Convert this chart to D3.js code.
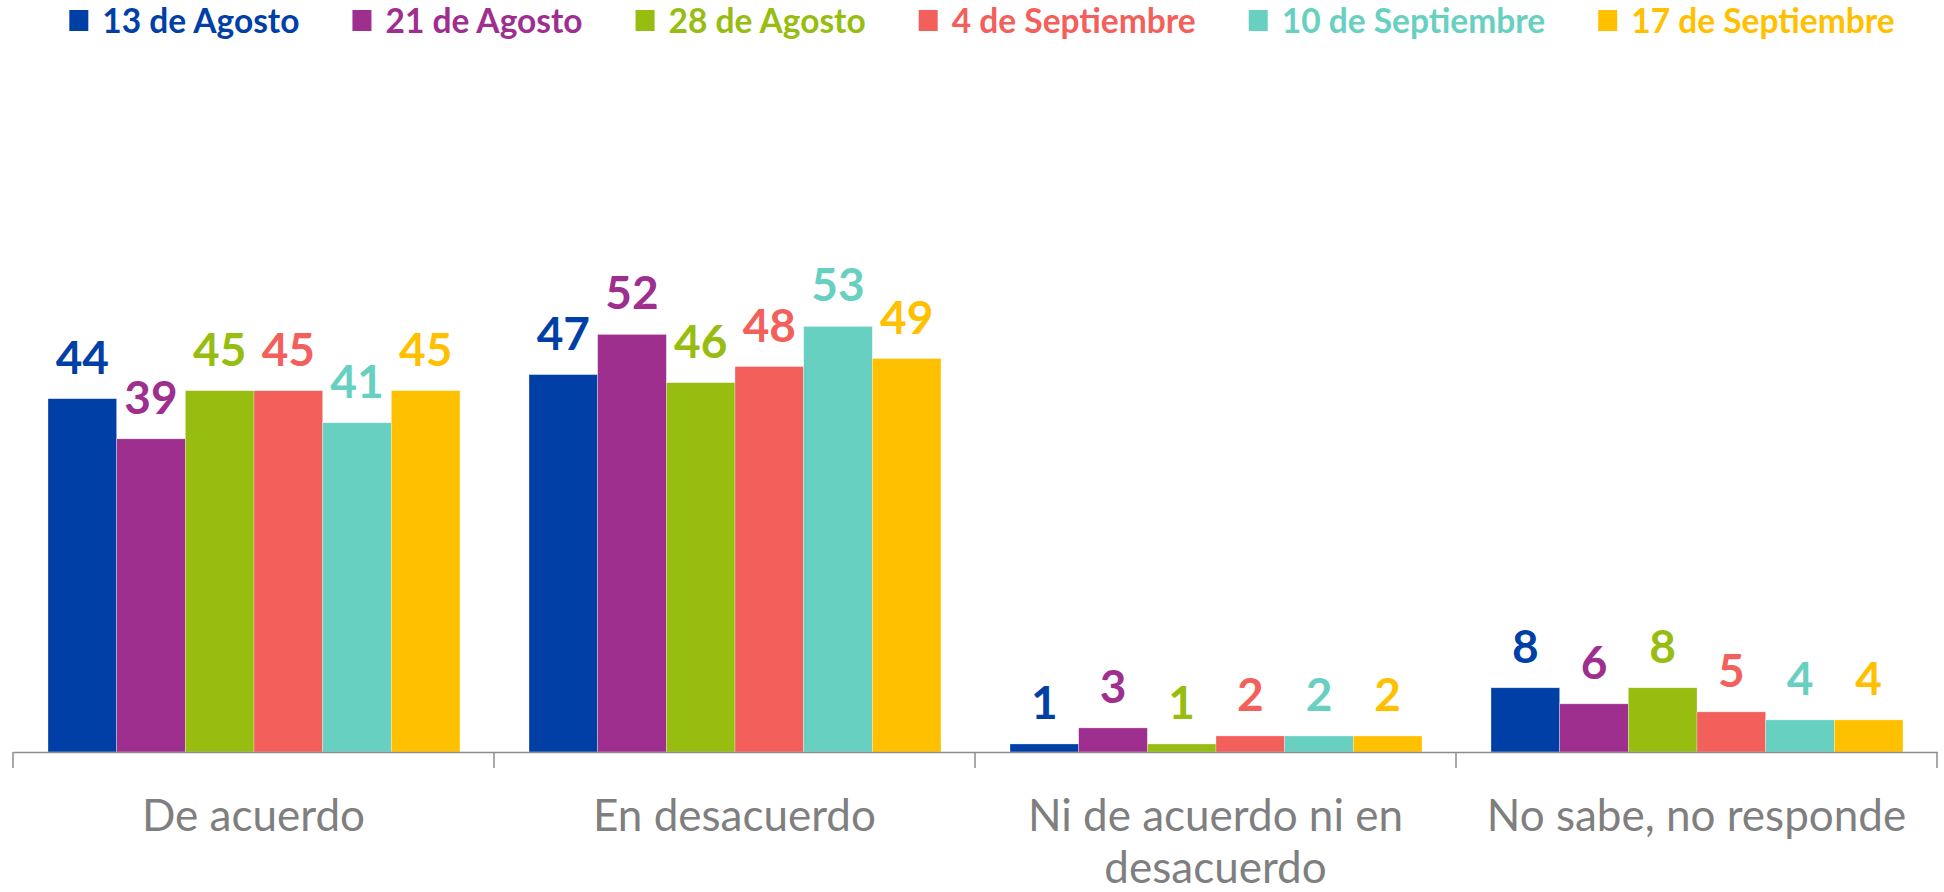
<!DOCTYPE html>
<html>
<head>
<meta charset="utf-8">
<script src="https://cdn.jsdelivr.net/npm/d3@7"></script>
<style>
  body { margin: 0; background: #fff; }
  svg { display: block; font-family: Lato, "Open Sans", sans-serif; }
</style>
</head>
<body>
<svg id="chart"></svg>
<script>
// categories and series
var categories = ["De acuerdo", "En desacuerdo", "Ni de acuerdo ni en desacuerdo", "No sabe, no responde"];
var seriesNames = ["13 de Agosto", "21 de Agosto", "28 de Agosto", "4 de Septiembre", "10 de Septiembre", "17 de Septiembre"];
var seriesColors = ["#003FA6", "#9E2F8F", "#96BD0F", "#F3605B", "#67D0C1", "#FFC000"];

var ago13 = [44, 47, 1, 8];
var ago21 = [39, 52, 3, 6];
var ago28 = [45, 46, 1, 8];
var sep04 = [45, 48, 2, 5];
var sep10 = [41, 53, 2, 4];
var sep17 = [45, 49, 2, 4];
var seriesValues = [ago13, ago21, ago28, sep04, sep10, sep17];

var W = 1944, H = 892;
var svg = d3.select("#chart").attr("width", W).attr("height", H);

var axisY = 752;
var x0 = d3.scaleBand().domain(categories).range([13, 1937]).padding(0);
var x1 = d3.scaleBand().domain(seriesNames)
    .range([35, x0.bandwidth() - 34]).padding(0);
var y = d3.scaleLinear().domain([0, 60]).range([axisY, axisY - 60 * 8.03]);

function rows(c, ci) {
    return seriesNames.map(function(s, si) {
        return {s: s, v: seriesValues[si][ci], color: seriesColors[si]};
    });
}

// bars
var groups = svg.selectAll("g.cat")
    .data(categories)
    .enter().append("g")
    .attr("class", "cat")
    .attr("transform", function(d) { return "translate(" + x0(d) + ",0)"; });

groups.selectAll("rect")
    .data(rows)
    .enter().append("rect")
    .attr("x", function(d) { return x1(d.s); })
    .attr("width", x1.bandwidth())
    .attr("y", function(d) { return y(d.v); })
    .attr("height", function(d) { return y(0) - y(d.v); })
    .attr("fill", function(d) { return d.color; })
    .attr("stroke", "rgba(255,255,255,0.5)")
    .attr("stroke-width", 0.6);

groups.selectAll("text.val")
    .data(rows)
    .enter().append("text")
    .attr("class", "val")
    .attr("x", function(d) { return x1(d.s) + x1.bandwidth() / 2; })
    .attr("y", function(d) { return y(d.v) - 25; })
    .attr("text-anchor", "middle")
    .attr("fill", function(d) { return d.color; })
    .style("font-size", "46px")
    .style("font-weight", "bold")
    .text(function(d) { return d.v; });

// x axis
var axis = svg.append("g")
    .attr("transform", "translate(0," + axisY + ")")
    .call(d3.axisBottom(x0).tickValues([]).tickSizeOuter(0));
axis.select(".domain").attr("stroke", "#8c8c8c").attr("stroke-width", 1.5);

var bounds = categories.map(function(c) { return x0(c); }).concat([x0.range()[1]]);
svg.selectAll("line.tick")
    .data(bounds)
    .enter().append("line")
    .attr("class", "tick")
    .attr("x1", function(d) { return d; })
    .attr("x2", function(d) { return d; })
    .attr("y1", axisY)
    .attr("y2", axisY + 16)
    .attr("stroke", "#8c8c8c")
    .attr("stroke-width", 1.5);

// category labels (wrapped)
var catLabels = svg.selectAll("text.cat")
    .data(categories)
    .enter().append("text")
    .attr("class", "cat")
    .attr("text-anchor", "middle")
    .attr("fill", "#7f7f7f")
    .style("font-size", "44px");

catLabels.each(function(d) {
    var t = d3.select(this);
    var cx = x0(d) + x0.bandwidth() / 2;
    var words = d.split(" ");
    var lines = [], line = [];
    var tspan = t.append("tspan");
    words.forEach(function(w) {
        line.push(w);
        tspan.text(line.join(" "));
        if (tspan.node().getComputedTextLength() > x0.bandwidth() - 30 && line.length > 1) {
            line.pop();
            lines.push(line.join(" "));
            line = [w];
        }
    });
    lines.push(line.join(" "));
    tspan.remove();
    lines.forEach(function(l, i) {
        t.append("tspan").attr("x", cx).attr("y", 831 + i * 52).text(l);
    });
});

// legend
var legend = svg.append("g");
var lx = 0;
seriesNames.forEach(function(s, i) {
    var g = legend.append("g").attr("transform", "translate(" + lx + ",0)");
    g.append("rect").attr("x", 0).attr("y", 10).attr("width", 19).attr("height", 21)
        .attr("fill", seriesColors[i]);
    var tx = g.append("text").attr("x", 33).attr("y", 33)
        .attr("fill", seriesColors[i])
        .style("font-size", "33.5px")
        .style("font-weight", "bold")
        .text(s);
    lx += 33 + tx.node().getComputedTextLength() + 53;
});
var legendW = lx - 53;
legend.attr("transform", "translate(" + (982 - legendW / 2) + ",0)");
</script>
</body>
</html>
